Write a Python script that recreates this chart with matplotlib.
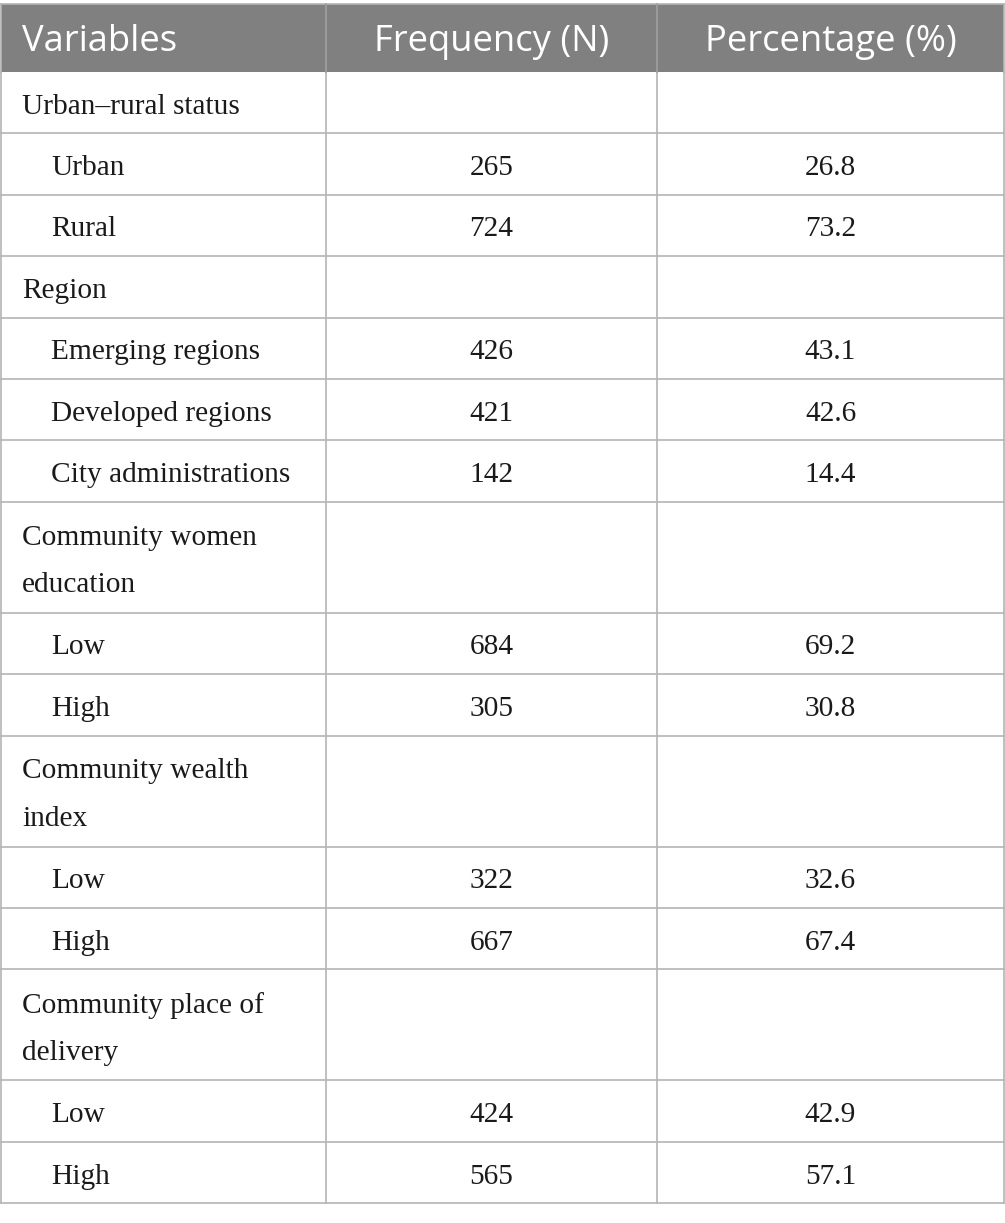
import matplotlib
matplotlib.use("Agg")
import matplotlib.pyplot as plt

# table content
headers = ["Variables", "Frequency (N)", "Percentage (%)"]
labels = ["Urban\u2013rural status", "Urban", "Rural",
          "Region", "Emerging regions", "Developed regions", "City administrations",
          "Community women\neducation", "Low", "High",
          "Community wealth\nindex", "Low", "High",
          "Community place of\ndelivery", "Low", "High"]
freq = ["", "265", "724",
        "", "426", "421", "142",
        "", "684", "305",
        "", "322", "667",
        "", "424", "565"]
pct = ["", "26.8", "73.2",
       "", "43.1", "42.6", "14.4",
       "", "69.2", "30.8",
       "", "32.6", "67.4",
       "", "42.9", "57.1"]
indented = [False, True, True,
            False, True, True, True,
            False, True, True,
            False, True, True,
            False, True, True]

W, H = 1005, 1223
fig = plt.figure(figsize=(W / 100, H / 100), dpi=100)
ax = fig.add_axes([0, 0, 1, 1])
ax.set_xlim(0, W)
ax.set_ylim(H, 0)
ax.axis("off")

col_x = [1, 326, 657, 1004]
top, head_h = 4, 68
single_h, double_h = 61.4, 111
line_c = "#b4b4b4"
head_bg = "#808080"
body_font = ["Liberation Serif", "DejaVu Serif"]
body_size = 21.2

# header
ax.add_patch(plt.Rectangle((col_x[0], top), col_x[-1] - col_x[0], head_h,
                           facecolor=head_bg, edgecolor="none"))
hy = top + head_h / 2 + 4
ax.text(22, hy, headers[0], color="white", fontsize=26.2, family="Open Sans",
        va="center", ha="left")
for i in (1, 2):
    ax.text((col_x[i] + col_x[i + 1]) / 2, hy, headers[i], color="white",
            fontsize=26.2, family="Open Sans", va="center", ha="center")

# body rows
y = top + head_h
ys = [y]
for lab, f, p, ind in zip(labels, freq, pct, indented):
    h = double_h if "\n" in lab else single_h
    cy = y + h / 2 + 4
    ax.text(51 if ind else 22, cy, lab, fontsize=body_size, family=body_font,
            color="#1a1a1a", va="center", ha="left", linespacing=2.07)
    ax.text((col_x[1] + col_x[2]) / 2, cy, f, fontsize=body_size,
            family=body_font, color="#1a1a1a", va="center", ha="center")
    ax.text((col_x[2] + col_x[3]) / 2, cy, p, fontsize=body_size,
            family=body_font, color="#1a1a1a", va="center", ha="center")
    y += h
    ys.append(y)

# grid lines
for yy in [top] + ys[1:]:
    ax.plot([col_x[0], col_x[-1]], [yy, yy], color=line_c, lw=1.2)
for i, xx in enumerate(col_x):
    ax.plot([xx, xx], [top + head_h, ys[-1]], color=line_c, lw=1.2)
    ax.plot([xx, xx], [top, top + head_h],
            color="#a0a0a0" if i in (1, 2) else line_c, lw=1.2)

fig.savefig("out.png", dpi=100)
